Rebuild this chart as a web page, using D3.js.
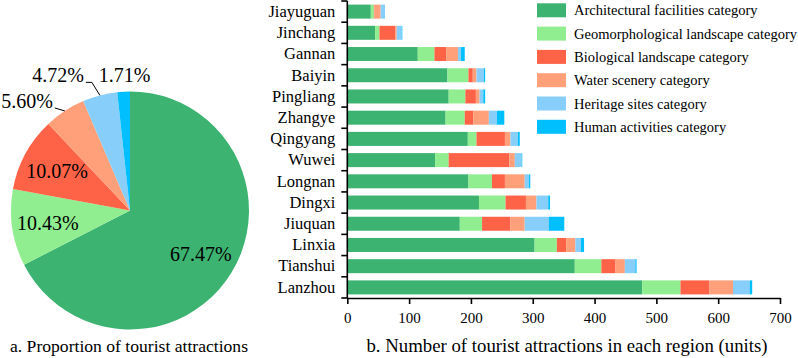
<!DOCTYPE html>
<html>
<head>
<meta charset="utf-8">
<script src="https://cdn.jsdelivr.net/npm/d3@7"></script>
<style>
  body { margin: 0; background: #fff; }
  svg { font-family: "Liberation Serif", "Times New Roman", serif; display: block; }
</style>
</head>
<body>
<svg id="chart" width="798" height="358"></svg>
<script>
// categories and colours
const categories = ["Architectural facilities category", "Geomorphological landscape category",
  "Biological landscape category", "Water scenery category", "Heritage sites category",
  "Human activities category"];
const colors = ["#3CB371", "#90EE90", "#FF6347", "#FFA07A", "#87CEFA", "#00BFFF"];

// pie shares (%)
const shares = [67.47, 10.43, 10.07, 5.60, 4.72, 1.71];

// regions, top to bottom
const regions = ["Jiayuguan", "Jinchang", "Gannan", "Baiyin", "Pingliang", "Zhangye", "Qingyang",
  "Wuwei", "Longnan", "Dingxi", "Jiuquan", "Linxia", "Tianshui", "Lanzhou"];
const architectural = [38, 45, 114, 162, 164, 159, 195, 142, 196, 213, 182, 303, 368, 477];
const geomorphological = [5, 7, 27, 34, 27, 31, 14, 22, 38, 43, 36, 36, 43, 62];
const biological = [1, 26, 19, 7, 17, 14, 46, 98, 21, 33, 46, 15, 23, 47];
const water = [10, 2, 19, 6, 6, 25, 9, 9, 32, 17, 23, 15, 15, 38];
const heritage = [7, 8, 5, 12, 6, 13, 12, 11, 7, 19, 39, 9, 17, 27];
const human = [0, 1, 6, 2, 3, 12, 3, 1, 2, 3, 25, 5, 2, 4];
const xTicks = [0, 100, 200, 300, 400, 500, 600, 700];

const svg = d3.select("#chart");

// ---------- pie ----------
const cx = 130, cy = 210.5, r = 119;
const gPie = svg.append("g").attr("transform", `translate(${cx},${cy})`);
const arcs = d3.pie().sort(null).value(d => d)(shares);
const arc = d3.arc().innerRadius(0).outerRadius(r);
const labelArc = d3.arc().innerRadius(83).outerRadius(83);

gPie.selectAll("path")
  .data(arcs)
  .enter().append("path")
  .attr("d", arc)
  .attr("fill", (d, i) => colors[i]);

// inside labels for the three big slices
gPie.selectAll("text.inner")
  .data(arcs.slice(0, 3))
  .enter().append("text")
  .attr("class", "inner")
  .attr("transform", d => `translate(${labelArc.centroid(d)})`)
  .attr("text-anchor", "middle")
  .attr("dy", "0.35em")
  .style("font-size", "20px")
  .text(d => d.value.toFixed(2) + "%");

// outside labels for the small slices
const edge = (d, rr) => {
  const a = (d.startAngle + d.endAngle) / 2;
  return [rr * Math.sin(a), -rr * Math.cos(a)];
};
// 5.60%
let p = edge(arcs[3], r);
gPie.append("path")
  .attr("d", `M${p[0]},${p[1]}L${p[0] - 10},${p[1] - 3}`)
  .attr("stroke", "#000").attr("fill", "none");
gPie.append("text")
  .attr("x", p[0] - 12).attr("y", p[1] - 3)
  .attr("text-anchor", "end")
  .style("font-size", "20px")
  .text(shares[3].toFixed(2) + "%");
// 4.72%
p = edge(arcs[4], r);
gPie.append("path")
  .attr("d", `M${p[0]},${p[1]}L${p[0] - 8},${p[1] - 13}L${p[0] - 14},${p[1] - 13}`)
  .attr("stroke", "#000").attr("fill", "none");
gPie.append("text")
  .attr("x", p[0] - 16).attr("y", p[1] - 13)
  .attr("text-anchor", "end")
  .style("font-size", "20px")
  .text(shares[4].toFixed(2) + "%");
// 1.71%
p = edge(arcs[5], r);
gPie.append("text")
  .attr("x", p[0] + 1).attr("y", p[1] - 10)
  .attr("text-anchor", "middle")
  .style("font-size", "20px")
  .text(shares[5].toFixed(2) + "%");

svg.append("text")
  .attr("x", 129).attr("y", 352)
  .attr("text-anchor", "middle")
  .style("font-size", "17.6px")
  .text("a. Proportion of tourist attractions");

// ---------- stacked bars ----------
const rows = regions.map((name, i) => ({
  name,
  c0: architectural[i], c1: geomorphological[i], c2: biological[i],
  c3: water[i], c4: heritage[i], c5: human[i]
}));
const keys = ["c0", "c1", "c2", "c3", "c4", "c5"];
const stacked = d3.stack().keys(keys)(rows);

const x = d3.scaleLinear().domain([0, 700]).range([347.3, 780]);
const y = d3.scaleBand().domain(regions).range([1, 298]).paddingInner(0.34).paddingOuter(0.17);

svg.append("g")
  .selectAll("g")
  .data(stacked)
  .enter().append("g")
  .attr("fill", (d, i) => colors[i])
  .selectAll("rect")
  .data(d => d)
  .enter().append("rect")
  .attr("x", d => x(d[0]))
  .attr("y", d => y(d.data.name))
  .attr("width", d => x(d[1]) - x(d[0]))
  .attr("height", y.bandwidth());

// y axis: labels at band centres, ticks between bands
const yAxis = svg.append("g")
  .attr("transform", `translate(${x(0)},0)`)
  .call(d3.axisLeft(y).tickSize(0).tickPadding(12));
yAxis.select(".domain").attr("stroke-width", 1.6).attr("d", `M0,${y.range()[0]}V${y.range()[1]}`);
yAxis.selectAll("text")
  .style("font-size", "16.5px")
  .style("font-family", "Liberation Serif, serif")
  .attr("fill", "#000");
const bounds = regions.map(d => y(d) - y.step() * y.paddingInner() / 2).concat([y.range()[1]]);
yAxis.selectAll("line.sep")
  .data(bounds)
  .enter().append("line")
  .attr("class", "sep")
  .attr("x1", -6).attr("x2", 0)
  .attr("y1", d => d).attr("y2", d => d)
  .attr("stroke", "#000").attr("stroke-width", 1.6);

const xAxis = svg.append("g")
  .attr("transform", `translate(0,${y.range()[1]})`)
  .call(d3.axisBottom(x).tickValues(xTicks).tickSize(6).tickPadding(8).tickSizeOuter(0));
xAxis.select(".domain").attr("stroke-width", 1.6);
xAxis.selectAll(".tick line").attr("stroke-width", 1.6);
xAxis.selectAll("text")
  .style("font-size", "15px")
  .style("font-family", "Liberation Serif, serif")
  .attr("fill", "#000");

svg.append("text")
  .attr("x", 567).attr("y", 352)
  .attr("text-anchor", "middle")
  .style("font-size", "18.8px")
  .text("b. Number of tourist attractions in each region (units)");

// ---------- legend ----------
const legend = svg.append("g")
  .selectAll("g")
  .data(categories)
  .enter().append("g")
  .attr("transform", (d, i) => `translate(537,${3.3 + i * 23.3})`);
legend.append("rect")
  .attr("width", 29).attr("height", 14)
  .attr("fill", (d, i) => colors[i]);
legend.append("text")
  .attr("x", 37).attr("y", 7)
  .attr("dy", "0.35em")
  .style("font-size", "14.5px")
  .text(d => d);
</script>
</body>
</html>
